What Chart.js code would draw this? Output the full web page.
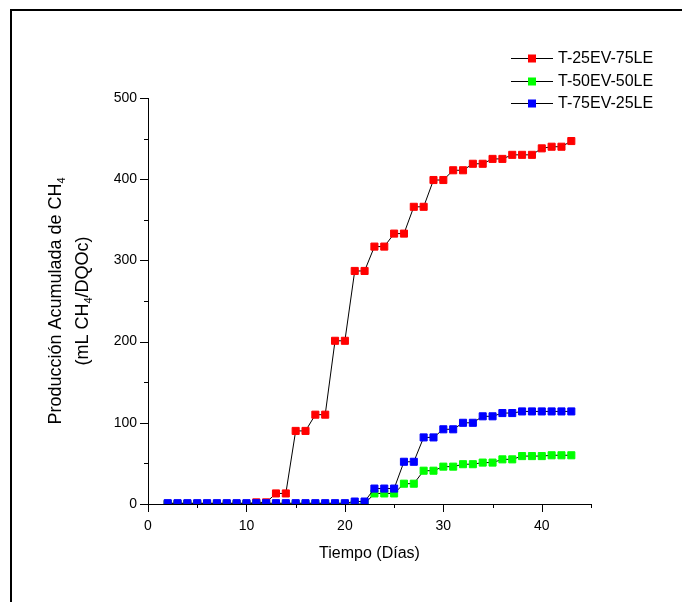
<!DOCTYPE html>
<html>
<head>
<meta charset="utf-8">
<script src="https://cdn.jsdelivr.net/npm/chart.js@4.4.1/dist/chart.umd.min.js"></script>
<style>
  body { margin: 0; background: #fff; }
  #wrap { width: 682px; height: 602px; }
</style>
</head>
<body>
<div id="wrap"><canvas id="ch4Chart" width="682" height="602"></canvas></div>
<script>
// dias de medicion
const dias = [2,3,4,5,6,7,8,9,10,11,12,13,14,15,16,17,18,19,20,21,22,
  23,24,25,26,27,28,29,30,31,32,33,34,35,36,37,38,39,40,41,42,43];

const serieNombres = ['T-25EV-75LE', 'T-50EV-50LE', 'T-75EV-25LE'];
const serieColores = ['#ff0000', '#00ff00', '#0000ff'];

// mL CH4 / DQOc
const t25ev75le = [0,0,0,0,0,0,0,0,0,2,2,13,13,90,90,110,110,201,201,287,287,
  317,317,333,333,366,366,399,399,411,411,419,419,425,425,430,430,430,438,440,440,447];
const t50ev50le = [0,0,0,0,0,0,0,0,0,0,0,0,0,0,0,0,0,0,0,0,0,
  13,13,13,25,25,41,41,46,46,49,49,51,51,55,55,59,59,59,60,60,60];
const t75ev25le = [1,1,1,1,1,1,1,1,1,1,1,1,1,1,1,1,1,1,1,3,3,
  19,19,19,52,52,82,82,92,92,100,100,108,108,112,112,114,114,114,114,114,114];

const xMax = 45;
const yMax = 500;

const fuente = '"Liberation Sans", Arial, sans-serif';

function toPoints(vals) {
  return dias.map((d, i) => ({ x: d, y: vals[i] }));
}

const series = [t25ev75le, t50ev50le, t75ev25le];
const ordenes = [2, 1, 0];

const datasets = series.map((vals, i) => ({
  label: serieNombres[i],
  data: toPoints(vals),
  borderColor: '#000',
  borderWidth: 1,
  pointStyle: 'rect',
  pointRadius: 5,
  pointBorderWidth: 1,
  pointBackgroundColor: serieColores[i],
  pointBorderColor: serieColores[i],
  tension: 0,
  order: ordenes[i],
}));

function drawSubText(ctx, parts, size) {
  // parts: [text, isSub]
  let total = 0;
  parts.forEach(([t, sub]) => {
    ctx.font = (sub ? size * 0.6 : size) + 'px ' + fuente;
    total += ctx.measureText(t).width;
  });
  let x = -total / 2;
  parts.forEach(([t, sub]) => {
    ctx.font = (sub ? size * 0.6 : size) + 'px ' + fuente;
    ctx.fillText(t, x, sub ? 4 : 0);
    x += ctx.measureText(t).width;
  });
}

const extras = {
  id: 'extras',
  afterDraw(chart) {
    const ctx = chart.ctx;
    const xs = chart.scales.x, ys = chart.scales.y;
    ctx.save();
    ctx.strokeStyle = '#000';
    ctx.fillStyle = '#000';

    // marco
    ctx.lineWidth = 2;
    ctx.beginPath();
    ctx.moveTo(11, 602);
    ctx.lineTo(11, 10);
    ctx.lineTo(682, 10);
    ctx.stroke();

    // marcas de los ejes
    ctx.lineWidth = 1;
    ctx.beginPath();
    for (let v = 0; v <= xMax; v += 5) {
      const px = Math.round(xs.getPixelForValue(v)) + 0.5;
      const len = v % 10 === 0 ? 8 : 4;
      ctx.moveTo(px, ys.bottom);
      ctx.lineTo(px, ys.bottom + len);
    }
    for (let v = 0; v <= yMax; v += 50) {
      const py = Math.round(ys.getPixelForValue(v)) + 0.5;
      const len = v % 100 === 0 ? 8 : 4;
      ctx.moveTo(xs.left - len, py);
      ctx.lineTo(xs.left, py);
    }
    ctx.stroke();

    // titulo eje x
    ctx.font = '16px ' + fuente;
    ctx.textAlign = 'center';
    ctx.textBaseline = 'alphabetic';
    ctx.fillText('Tiempo (Días)', (xs.left + xs.right) / 2, 558);

    // titulo eje y
    ctx.textAlign = 'left';
    const cy = (ys.top + ys.bottom) / 2;
    ctx.save();
    ctx.translate(61, cy);
    ctx.rotate(-Math.PI / 2);
    drawSubText(ctx, [['Producción Acumulada de CH', false], ['4', true]], 18);
    ctx.restore();
    ctx.save();
    ctx.translate(88, cy);
    ctx.rotate(-Math.PI / 2);
    drawSubText(ctx, [['(mL CH', false], ['4', true], ['/DQOc)', false]], 18);
    ctx.restore();

    // leyenda
    const filas = [58, 81, 103];
    ctx.font = '16px ' + fuente;
    ctx.textBaseline = 'middle';
    serieNombres.forEach((nombre, i) => {
      const y = filas[i];
      ctx.strokeStyle = '#000';
      ctx.beginPath();
      ctx.moveTo(511, y + 0.5);
      ctx.lineTo(553, y + 0.5);
      ctx.stroke();
      ctx.fillStyle = serieColores[i];
      ctx.fillRect(528, y - 3.5, 8, 8);
      ctx.fillStyle = '#000';
      ctx.fillText(nombre, 558, y + 1);
    });
    ctx.restore();
  }
};

const ctx = document.getElementById('ch4Chart').getContext('2d');

new Chart(ctx, {
  type: 'line',
  data: { datasets: datasets },
  options: {
    responsive: false,
    animation: false,
    layout: { padding: { left: 12, top: 98, right: 91, bottom: 10 } },
    plugins: {
      legend: { display: false },
      tooltip: { enabled: false },
    },
    scales: {
      x: {
        type: 'linear',
        min: 0,
        max: xMax,
        grid: { display: false, drawTicks: false },
        border: { display: true, color: '#000', width: 1 },
        ticks: {
          stepSize: 5,
          autoSkip: false,
          maxRotation: 0,
          padding: 14,
          color: '#000',
          font: { family: fuente, size: 14 },
          callback: (v) => (v % 10 === 0 ? v : ''),
        },
        afterFit: (s) => { s.height = 88; },
      },
      y: {
        min: 0,
        max: yMax,
        grid: { display: false, drawTicks: false },
        border: { display: true, color: '#000', width: 1 },
        ticks: {
          stepSize: 50,
          autoSkip: false,
          padding: 11,
          color: '#000',
          font: { family: fuente, size: 14 },
          callback: (v) => (v % 100 === 0 ? v : ''),
        },
        afterFit: (s) => { s.width = 136; },
      },
    },
  },
  plugins: [extras],
});
</script>
</body>
</html>
